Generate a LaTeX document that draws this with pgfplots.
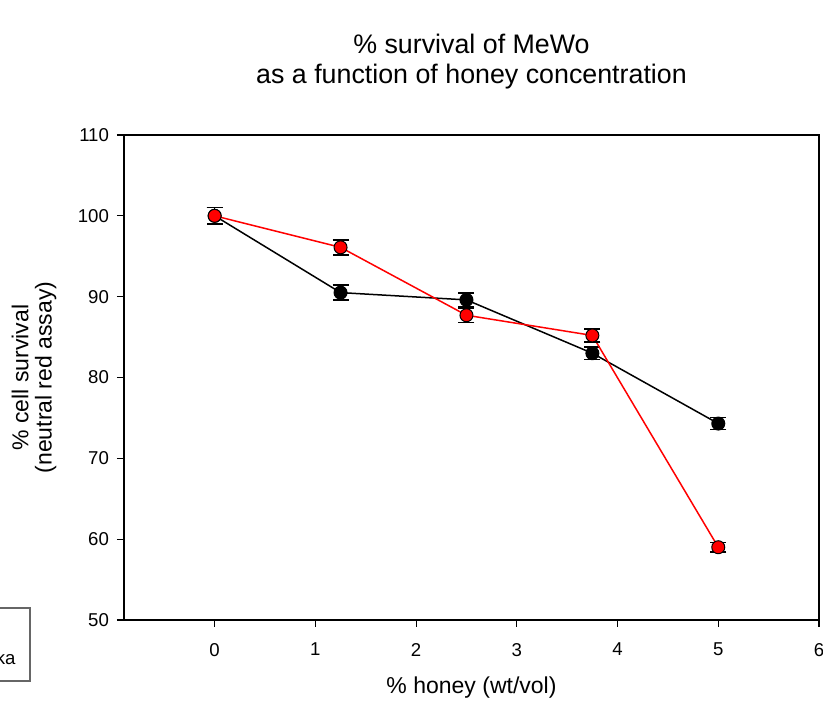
\documentclass[border=0pt]{standalone}
\usepackage{pgfplots}
\pgfplotsset{compat=1.18}
\usepackage{fontspec}
\setmainfont{Liberation Sans}
\begin{document}
\begin{tikzpicture}
\begin{axis}[
  name=ax,
  scale only axis,
  width=347.5pt, height=242.5pt,
  xmin=-0.9, xmax=6, ymin=50, ymax=110,
  xtick={0,1,2,3,4,5,6}, ytick={50,60,70,80,90,100,110},
  tick align=outside, xtick pos=bottom, ytick pos=left,
  major tick length=3.5pt,
  tick style={black, line width=0.6pt},
  axis line style={black, line width=0.6pt},
  /pgf/number format/assume math mode=true,
  ticklabel style={font=\fontsize{9.3}{11}\selectfont},
  xticklabel style={yshift=-4.5pt},
  yticklabel style={xshift=-0.5pt},
  xlabel={\% honey (wt/vol)},
  ylabel={\% cell survival\\(neutral red assay)},
  label style={font=\fontsize{11.5}{11.6}\selectfont, align=center},
  xlabel style={at={(axis description cs:0.5,-0.1402)}, anchor=center},
  ylabel style={at={(axis description cs:-0.1295,0.5)}, anchor=center},
  title={\% survival of MeWo\\as a function of honey concentration},
  title style={at={(axis description cs:0.5,1.1258)}, anchor=center, align=center, font=\fontsize{13.4}{15}\selectfont},
  clip=false,
]
\addplot[black, line width=0.75pt, mark=*, mark size=3.25pt,
  mark options={fill=black, draw=black, line width=0.5pt},
  error bars/.cd, y dir=both, y explicit,
  error bar style={black, line width=0.75pt},
  error mark options={rotate=90, mark size=4pt, line width=0.75pt, black}]
  table[x=x, y=y, y error=e] {
x y e
0 100.0 1.0
1.25 90.5 0.93
2.5 89.6 0.85
3.75 83.0 0.8
5 74.3 0.75
};
\addplot[red, line width=0.75pt, mark=*, mark size=3.25pt,
  mark options={fill=red, draw=black, line width=0.5pt},
  error bars/.cd, y dir=both, y explicit,
  error bar style={black, line width=0.75pt},
  error mark options={rotate=90, mark size=4pt, line width=0.75pt, black}]
  table[x=x, y=y, y error=e] {
x y e
0 100.0 1.0
1.25 96.1 0.93
2.5 87.7 0.9
3.75 85.2 0.8
5 59.0 0.6
};
\end{axis}
% partially visible legend box at left
\draw[black!60, line width=0.6pt] ([xshift=-120pt, yshift=6pt]ax.south west) rectangle ([xshift=-47pt, yshift=-30.5pt]ax.south west);
\node[anchor=east, inner sep=0pt, font=\fontsize{9.3}{11}\selectfont] at ([xshift=-54pt, yshift=-19pt]ax.south west) {Manuka};
\pgfresetboundingbox
\useasboundingbox ([xshift=-62pt, yshift=-41pt]ax.south west) rectangle ([xshift=2pt, yshift=67.5pt]ax.north east);
\end{tikzpicture}
\end{document}
